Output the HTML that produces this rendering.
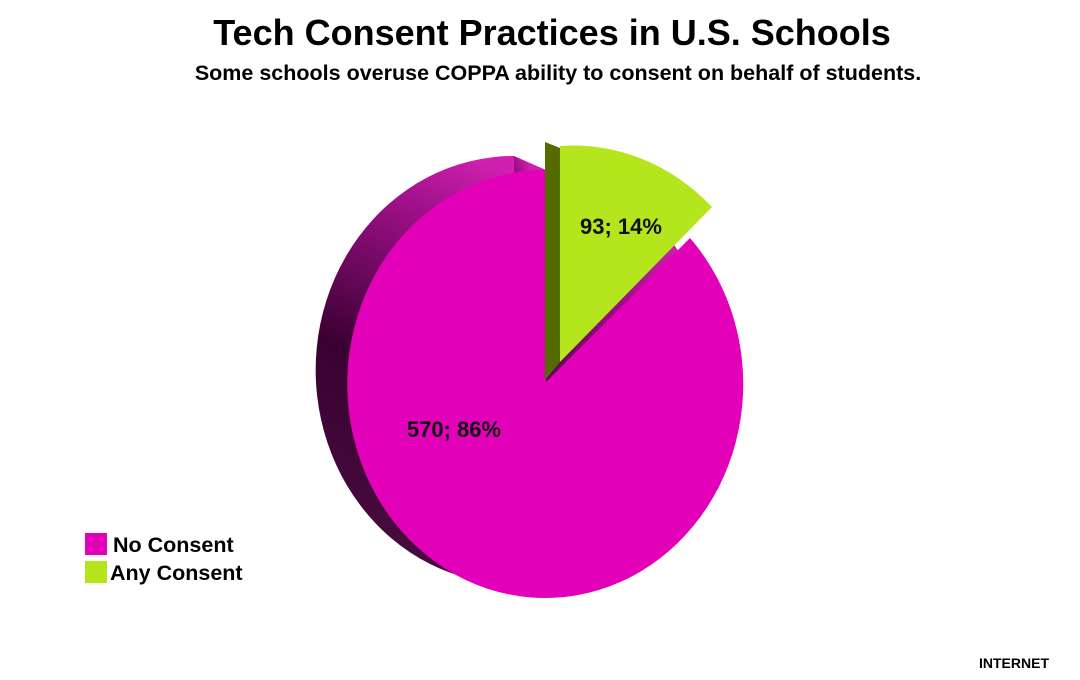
<!DOCTYPE html>
<html><head><meta charset="utf-8"><style>
body{margin:0;background:#fff;width:1080px;height:675px;overflow:hidden;font-family:"Liberation Sans",Arial,sans-serif}
</style></head><body>
<svg width="1080" height="675" xmlns="http://www.w3.org/2000/svg">
<defs>
<linearGradient id="side" x1="0" y1="1" x2="0.4" y2="0">
<stop offset="0" stop-color="#4a1040"/><stop offset="0.5" stop-color="#3a0032"/><stop offset="0.85" stop-color="#a0108a"/><stop offset="1" stop-color="#d020b0"/>
</linearGradient>
</defs>
<text x="552" y="45" text-anchor="middle" font-size="36" font-weight="bold" fill="#000">Tech Consent Practices in U.S. Schools</text>
<text x="558" y="80" text-anchor="middle" font-size="21.5" font-weight="bold" fill="#000">Some schools overuse COPPA ability to consent on behalf of students.</text>
<path d="M514,368 L514,156 A198,214 0 1,0 665,232 Z" fill="url(#side)"/>
<path d="M514,156 L546,170 L546,382 L514,368 Z" fill="url(#side)"/>
<path d="M546,382 L690,238 A198,214 0 1,1 546,170 Z" fill="#e200b8"/>
<path d="M545,142 L560,148 L560,362 L545,380 Z" fill="#556b00"/>
<path d="M560,362 L560,146 A198,214 0 0,1 712,207 Z" fill="#b5e61d"/>
<text x="621" y="234" text-anchor="middle" font-size="22" font-weight="bold" fill="#111">93; 14%</text>
<text x="454" y="437" text-anchor="middle" font-size="22" font-weight="bold" fill="#111">570; 86%</text>
<rect x="85" y="533" width="22" height="22" fill="#e200b8"/>
<text x="113" y="552" font-size="21.5" font-weight="bold" fill="#000">No Consent</text>
<rect x="85" y="561" width="22" height="22" fill="#b5e61d"/>
<text x="110" y="580" font-size="21.5" font-weight="bold" fill="#000">Any Consent</text>
<text x="979" y="668" font-size="14" font-weight="bold" fill="#000">INTERNET</text>
<text x="979" y="685" font-size="14" font-weight="bold" fill="#000">SAFETY</text>
</svg>
</body></html>
